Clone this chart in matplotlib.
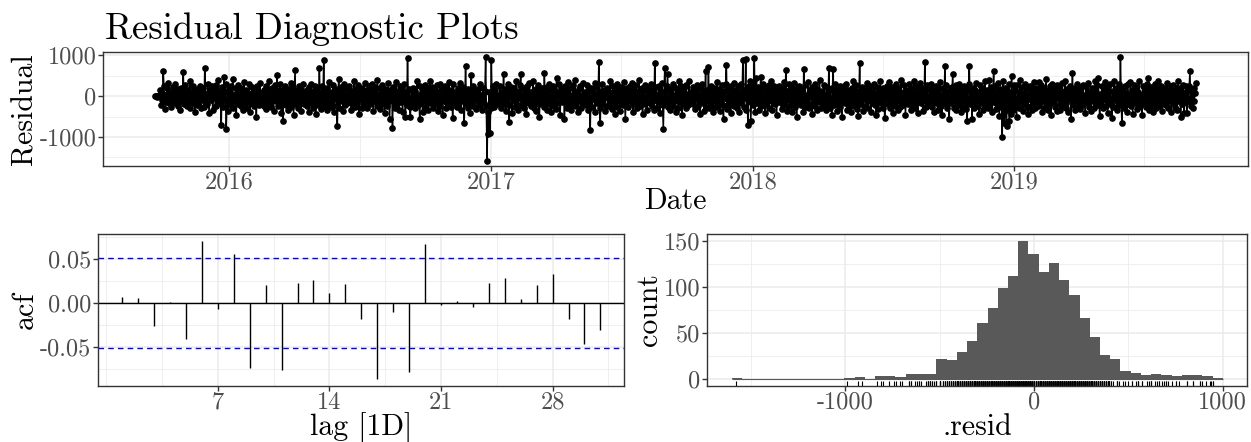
import numpy as np
import pandas as pd
import matplotlib
matplotlib.use("Agg")
import matplotlib.pyplot as plt
import matplotlib.dates as mdates

plt.rcParams['font.family'] = 'cmr10'
plt.rcParams['mathtext.fontset'] = 'cm'
plt.rcParams['axes.unicode_minus'] = False

# daily residuals, in units of 10 (one row ~ one month)
start_date = '2015-09-20'
resid_tens = [
    0, 1, 0, -1, 0, 0, 1, 14, -22, 8, -9, 62, 25, -31, 3, -14, 19, -6, 33, -18, -3, 11, -27, 6, -12, 22, -4, 30, -16, 9,
    -7, 18, -25, 4, 12, -35, 21, -2, -11, 60, -19, 7, 28, -8, -24, 15, 2, -13, 36, -29, -5, 10, -17, 24, -1, -38, 13, 5, -21, 17,
    3, -15, 26, -9, -30, 11, -4, 20, -26, 69, -12, 6, -20, 31, -7, -41, 16, 1, -10, 24, -33, 8, -3, 14, -23, 27, -6, -16, 39, -11,
    12, -18, -71, 22, 5, -27, 47, -8, 30, -80, -14, 9, -36, 18, -2, 25, -22, -9, 41, -30, 4, -13, 19, -45, 7, 28, -19, -5, 13, -24,
    21, -6, -33, 10, 35, -20, -1, 16, -28, 7, -12, 29, -39, 3, -17, 23, -8, 11, -25, -4, 18, -52, 26, -10, 2, -21, 32, -15, 8, -3,
    -9, 15, -23, 6, -31, 24, -4, -14, 38, -19, 1, 12, -27, 20, -7, -36, 9, 27, -12, -2, 52, -24, 14, -6, 30, -17, -41, 8, -61, 19,
    -11, 26, -3, -22, 10, -34, 17, 4, -16, 33, -26, -8, 21, -45, 6, 64, -20, -5, 13, -29, 24, -13, 2, -37, 18, -1, 29, -19, -9, 11,
    7, -24, 16, -12, -38, 22, -3, 31, -18, 5, -28, 12, -7, 26, -43, -10, 19, -21, 3, 70, -15, -31, 9, 24, -6, 88, -25, -11, 15, -35,
    20, -8, -19, 34, -2, -27, 11, -14, 28, -40, 6, -5, 17, -23, -74, 9, 42, -30, -13, 23, -4, 14, -36, 1, 30, -21, -9, 19, -16, 5,
    -13, 25, -6, -33, 13, 2, -22, 37, -10, -26, 18, -1, -15, 27, -44, 8, -7, 21, -30, 12, -19, 4, 33, -12, -3, -28, 16, -8, 26, -20,
    9, -17, 30, -5, -36, 15, -11, 22, -2, -24, 40, -14, 6, -31, 19, -7, -20, 28, -3, 11, -42, 17, -9, 3, -25, 32, -13, -55, 14, -1,
    16, -77, 23, -10, -28, 8, 35, -19, -4, 12, -33, 26, -8, -15, 20, -38, 4, 29, -12, -50, 10, -21, 93, -6, 18, -27, -50, 14, -2, -17,
    21, -5, -30, 13, -14, 36, -22, 2, -9, -56, 24, -18, 7, -40, 15, -3, 28, -26, -11, 19, -7, -34, 11, 38, -16, -1, 22, -29, 6, -12,
    -20, 14, -6, 27, -37, 9, -13, 31, -24, 4, -2, -45, 18, -9, 25, -15, -30, 12, 1, -21, 34, -8, -27, 16, -4, -53, 29, -11, 7, -18,
    11, -26, 20, -3, -16, 33, -9, -35, 14, -1, 23, -65, -12, 75, -20, 6, -29, 18, -7, -41, 10, 52, -14, -24, 26, -5, 13, -32, 3, -10,
    17, -8, -22, 29, -13, 4, -33, 21, -4, -18, 12, 95, -25, -158, -38, -93, 10, -91, -30, 88, -15, 24, -6, -27, 15, -11, 31, -19, 2, -8,
    -14, 26, -3, -29, 9, -19, 55, -7, 18, -36, 5, -12, 30, -22, -63, 14, -2, 23, -41, 8, -9, 19, -26, 36, -16, 1, -34, 12, -5, 27,
    54, -21, 3, -11, 20, -30, -6, 15, -44, 24, -2, -17, 33, -8, -25, 11, -13, 38, -28, 6, -4, -37, 17, -10, 28, -20, -52, 9, -15, 21,
    -8, 12, -27, 57, -16, 5, -35, 22, -1, -20, 31, -12, -39, 16, -5, 25, -23, -9, 13, -31, 44, -18, 7, -3, 29, -46, 10, -14, 20, -6,
    15, -56, 24, -10, -28, 8, 35, -17, -2, 19, -33, 4, -13, 27, -21, -7, 39, -25, 11, -4, -38, 18, -11, 26, -30, 3, -15, 32, -9, -19,
    10, -22, 28, -6, -34, 14, -12, -83, 21, -3, -27, 17, -8, 33, -40, 6, -18, 24, -1, 84, -29, -65, 12, -14, 30, -20, -5, 16, -37, 8,
    -3, 20, -24, 11, -15, 37, -9, -31, 5, 25, -18, -44, 14, -2, 29, -26, -7, 18, -12, -36, 22, -5, 9, -21, 34, -14, -57, 13, -1, 19,
    -27, 7, 24, -13, -3, 32, -20, -38, 16, -9, 27, -4, -30, 12, -17, 40, -11, -24, 3, 21, -43, 15, -6, 28, -19, -1, -33, 10, 23, -8,
    6, -16, 31, -23, -2, 18, -35, 81, -10, 22, -29, 4, -14, 26, -41, 11, -6, 33, -21, -81, 9, 68, -17, -3, 25, 55, -26, -11, 14, -34,
    17, -7, -25, 30, -13, 2, -39, 21, -4, 13, -28, 36, -15, -1, 24, -47, 8, -19, 19, -9, -30, 27, -12, 5, -22, 38, -6, -16, 11, -3,
    -20, 23, -8, -32, 14, -2, 28, -24, 6, -14, -43, 19, -5, 31, -18, 10, -36, 3, 62, -27, 16, -11, 71, -30, -7, 24, -21, 12, -40, 8,
    21, -12, 4, -26, 35, -17, -3, 18, -37, 9, -8, 27, -22, -55, 13, -5, 30, 77, -31, -10, 20, -19, 6, -42, 26, -1, -15, 33, -24, 11,
    -6, 16, -29, 24, -11, -38, 7, 30, -18, 2, 89, -27, 14, -4, 91, -33, 19, -70, 25, -9, 36, -61, -14, 28, -22, 11, 94, -40, -7, 45,
    -17, 22, -3, -34, 15, 48, -25, -9, 31, -14, 5, -41, 20, -20, 9, -6, 27, -28, -1, 38, -12, -35, 17, -4, 24, -19, 3, -46, 14, -10,
    26, -15, -2, 19, -31, 8, -22, 34, -7, -13, 65, -36, 12, -5, 29, -24, -10, 21, -40, 7, -16, 32, -3, -27, 17, -52, 11, -8, 25, -18,
    5, -21, 14, -9, -38, 66, -13, 27, -26, 3, -4, 35, -19, -30, 16, -1, 22, -43, 9, -11, 30, -23, -6, 18, -33, 13, -2, 39, -15, -28,
    12, -7, -24, 28, -16, 4, -35, 23, -3, -20, 70, -29, 15, -10, -45, 19, 66, -22, -5, 31, -14, 8, -37, 21, -8, -26, 26, -2, -50, 17,
    -11, 24, -18, 3, 30, -33, -6, 16, -27, 11, -1, -40, 20, -14, 36, -24, 7, -9, 27, -31, 13, -48, -3, 81, -20, -12, 22, -36, 9, -5,
    18, -25, 6, 33, -13, -29, 14, -4, 25, -39, 10, -17, -2, 29, -21, 8, -46, 23, -9, -32, 15, -6, 38, -18, -11, 21, -28, 4, -54, 13,
    -3, 26, -20, -8, 34, -30, 11, -15, 22, -42, 5, 17, -24, -1, 31, -12, -35, 19, -6, 9, -27, 40, -16, 2, -21, 28, -9, -45, 16, -13,
    7, -19, 29, -11, -34, 20, -4, -23, 13, 37, -28, 3, -14, 24, -41, 10, -7, 32, -18, -2, 16, -37, 21, -10, 84, -26, -6, 27, -15, 1,
    -22, 14, -5, 30, -27, -12, 19, -38, 8, -1, 25, -17, -33, 12, -8, 35, -24, 4, -46, 21, -10, -3, 73, -19, 28, -30, 9, -14, -55, 18,
    3, -16, 22, 55, -28, -7, 15, -35, 27, -11, -2, 31, -21, 10, -40, 18, -5, -26, 24, -13, 6, -32, 17, -60, -8, 29, 75, -20, -4, 12,
    -56, 20, -9, -30, 14, 33, -18, 2, -25, 9, -43, 27, -6, -14, 21, -35, 11, -1, 36, -22, -10, 16, -29, 5, 40, -17, -4, 23, -38, 8,
    62, -14, 25, -31, 9, -20, 33, -7, -48, 18, -27, 12, -99, 36, -40, -66, 21, -35, -73, 15, -25, 30, -62, 8, -43, 50, -18, -33, 27, -9,
    16, -21, -50, 28, -6, 11, -30, 39, -15, -3, 22, -36, 7, -19, 31, -10, -26, 18, -44, 4, -8, 26, -23, 13, -33, 1, 34, -12, -28, 20,
    -7, 9, -24, 35, -16, -2, 27, -39, 12, -11, 20, -29, -5, 41, -21, 6, -34, 16, -13, 24, -47, 3, 30, -18, -8, 19, -26, 10, -37, 28,
    -4, 23, -19, -33, 13, -9, 32, -25, 5, -14, 37, -28, -2, 18, -40, 11, -6, 26, -56, -17, 57, -22, 8, -35, 21, -12, -1, 30, -27, 14,
    10, -31, 19, -7, -22, 28, -13, 3, -42, 24, -5, -18, 33, -26, 9, -1, -37, 20, -10, 15, -29, 38, -16, -4, 27, -21, 44, -11, -48, 6,
    -15, 26, -8, -30, 17, -3, 34, -24, 11, -41, 22, -12, -6, 29, -19, -54, 13, -27, 36, -9, -2, 21, -35, 8, -16, 31, -22, 95, -11, -66,
    19, -5, -28, 24, -14, 8, -39, 30, -20, 2, -10, 35, -25, 14, -43, -7, 27, -17, -1, 22, -32, 11, -9, 37, -23, 4, -13, -47, 25, -6,
    -18, 12, -3, -26, 29, -11, 44, -34, 16, -7, 23, -21, -40, 9, -1, 31, -15, -29, 18, -5, 38, -24, 6, -12, 26, -36, 13, -8, -19, 21,
    4, -22, 32, -13, -30, 15, -4, 25, -38, 10, -17, 27, -8, -27, 20, -2, -33, 36, -12, -6, 19, -50, 13, -20, 28, -10, -41, 7, 24, -15,
    -42, 17, -9, 26, 61, -24, -5, 14, -30, 21, -12, 8, 32,
]
resid = np.array(resid_tens) * 10
dates = pd.date_range(start_date, periods=len(resid), freq='D')

# ACF of residuals, lags 1..31
lags = np.arange(1, 32)
acf_vals = [0.0064, 0.0057, -0.0265, 0.0015, -0.0405, 0.0705, -0.0068, 0.0557, -0.0742, 0.0205,
            -0.0758, 0.0223, 0.0258, 0.0117, 0.0216, -0.0182, -0.0867, -0.0106, -0.0788, 0.0678,
            -0.0027, 0.0019, -0.0049, 0.0227, 0.0284, 0.0042, 0.0208, 0.0330, -0.0178, -0.0462, -0.0311]
acf_bound = 0.0513

# histogram of residuals
hist_edges = np.linspace(-1600, 1000, 49)
hist_counts = [1, 0, 0, 0, 0, 0, 0, 0, 0, 0, 0, 1, 2, 0, 3, 3, 2, 6, 6, 6,
               22, 21, 30, 41, 61, 77, 99, 112, 150, 136, 116, 126, 108, 92, 66, 46, 26, 22,
               9, 7, 5, 6, 5, 3, 4, 4, 3, 1]

W, H = 1251, 442
TICK = 17.5
LAB = 21.5


def expand(lo, hi, f=0.05):
    d = (hi - lo) * f
    return lo - d, hi + d


def style(ax):
    for s in ax.spines.values():
        s.set_color('#333333')
        s.set_linewidth(1.0)
    ax.tick_params(which='major', length=3.5, width=1, color='#333333',
                   labelcolor='#4D4D4D', labelsize=TICK, pad=1.5)
    ax.tick_params(axis='x', pad=0.5)
    ax.tick_params(which='minor', length=0)
    ax.grid(which='major', color='#EBEBEB', lw=1.1)
    ax.grid(which='minor', color='#EBEBEB', lw=0.55)
    ax.set_axisbelow(True)


def box(l, t, r, b):
    return [l / W, 1 - b / H, (r - l) / W, (b - t) / H]


fig = plt.figure(figsize=(W / 100, H / 100), dpi=100)

# top: residual time series
ax1 = fig.add_axes(box(103.3, 52.3, 1247.7, 165.7))
ax1.plot(dates, resid, color='black', lw=1.1, marker='o', ms=3.8)
x0, x1 = mdates.date2num(dates[0]), mdates.date2num(dates[-1])
ax1.set_xlim(*expand(x0, x1))
ax1.set_ylim(*expand(resid.min(), resid.max()))
years = [2016, 2017, 2018, 2019]
ax1.set_xticks([mdates.date2num(pd.Timestamp(f'{y}-01-01')) for y in years])
ax1.set_xticklabels([str(y) for y in years])
ax1.set_xticks([mdates.date2num(pd.Timestamp(f'{y}-07-01')) for y in years], minor=True)
ax1.set_yticks([-1000, 0, 1000])
ax1.set_yticklabels(['-1000', '0', '1000'])
ax1.set_yticks([-1500, -500, 500], minor=True)
style(ax1)

# bottom left: ACF
ax2 = fig.add_axes(box(98.3, 234.3, 624.3, 386))
ax2.vlines(lags, 0, acf_vals, color='black', lw=1.0)
ax2.axhline(0, color='black', lw=1.0)
for b in (acf_bound, -acf_bound):
    ax2.axhline(b, color='#0000FF', lw=1.0, ls=(0, (4, 3)))
ax2.set_xlim(*expand(lags.min(), lags.max()))
ax2.set_ylim(*expand(min(acf_vals), max(acf_vals)))
ax2.set_xticks([7, 14, 21, 28])
ax2.set_xticks([0, 3.5, 10.5, 17.5, 24.5, 31.5], minor=True)
ax2.set_yticks([-0.05, 0, 0.05])
ax2.set_yticklabels(['-0.05', '0.00', '0.05'])
ax2.set_yticks([-0.075, -0.025, 0.025, 0.075], minor=True)
style(ax2)

# bottom right: histogram + rug
ax3 = fig.add_axes(box(707.3, 234.3, 1247.3, 386))
ax3.bar(hist_edges[:-1], hist_counts, width=np.diff(hist_edges), align='edge',
        color='#595959', lw=0)
ax3.hlines(0, hist_edges[0], hist_edges[-1], color='#595959', lw=0.8)
ax3.vlines(resid, 0, 0.035, transform=ax3.get_xaxis_transform(), color='black', lw=0.8)
ax3.set_xlim(*expand(hist_edges[0], hist_edges[-1]))
ax3.set_ylim(*expand(0, max(hist_counts)))
ax3.set_xticks([-1000, 0, 1000])
ax3.set_xticklabels(['-1000', '0', '1000'])
ax3.set_xticks([-1500, -500, 500], minor=True)
ax3.set_yticks([0, 50, 100, 150])
ax3.set_yticks([25, 75, 125], minor=True)
style(ax3)

# texts
fig.text(105 / W, 1 - 39.3 / H, 'Residual Diagnostic Plots', fontsize=26.5, va='baseline', ha='left')
fig.text(675.5 / W, 1 - 209 / H, 'Date', fontsize=LAB, va='baseline', ha='center')
fig.text(361.3 / W, 1 - 435 / H, 'lag [1D]', fontsize=LAB, va='baseline', ha='center')
fig.text(977.3 / W, 1 - 435 / H, '.resid', fontsize=LAB, va='baseline', ha='center')
fig.text(32.3 / W, 1 - 109 / H, 'Residual', fontsize=LAB, rotation=90, va='baseline',
         ha='center', rotation_mode='anchor')
fig.text(33 / W, 1 - 310 / H, 'acf', fontsize=LAB, rotation=90, va='baseline',
         ha='center', rotation_mode='anchor')
fig.text(656.7 / W, 1 - 310 / H, 'count', fontsize=LAB, rotation=90, va='baseline',
         ha='center', rotation_mode='anchor')

fig.savefig('out.png', dpi=100)
